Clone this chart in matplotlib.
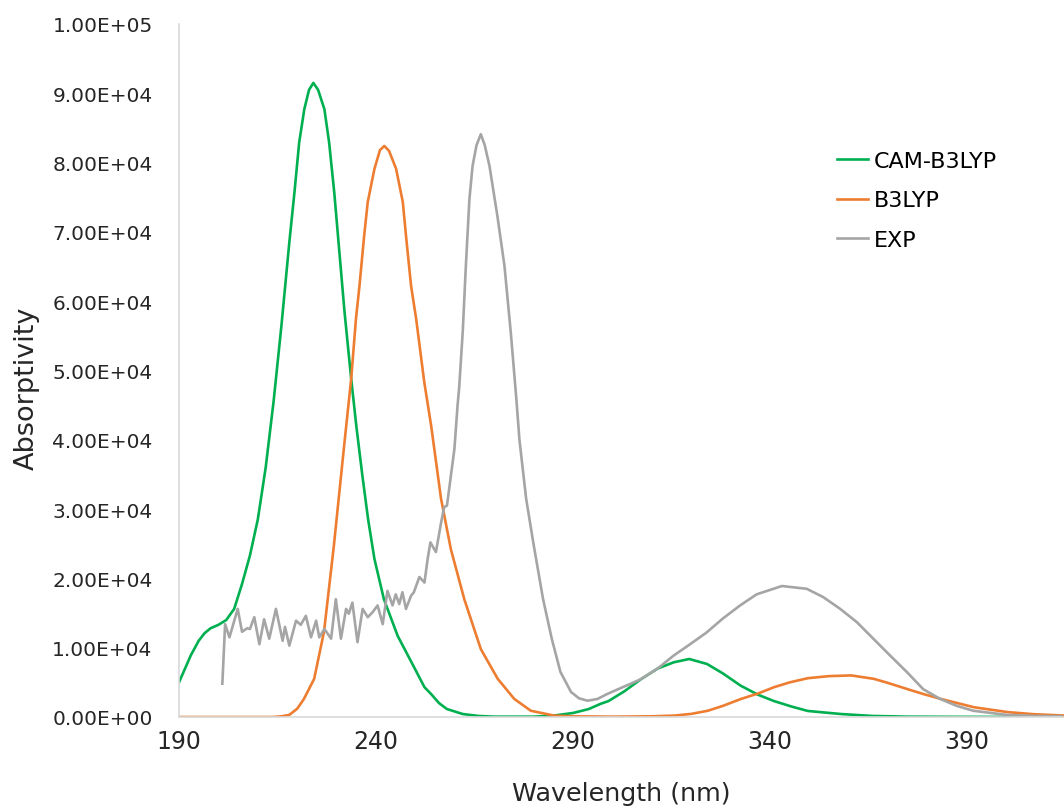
import numpy as np
import matplotlib
matplotlib.use('Agg')
import matplotlib.pyplot as plt
from matplotlib.ticker import FuncFormatter

# ── Spectra (wavelength in nm, absorptivity) ─────────────────────────────
cam_x = [190, 192, 193, 195, 196.5, 198, 200, 202, 204, 206, 208, 210, 212,
         214, 216, 218, 219.3, 220.5, 221.8, 223, 224.1, 225.3, 226.9, 228.1,
         229.4, 230.7, 232, 233.7, 235, 236.5, 238, 239.6, 242, 245.5, 249,
         252.3, 254, 256, 258, 262, 266, 270, 280, 285, 290, 294, 297, 299,
         303, 307.3, 311.5, 315.6, 319.5, 324, 328, 332.6, 337, 341, 345.5,
         349.6, 358, 366, 375, 390, 415]
cam_y = [5000, 7600, 8900, 11000, 12100, 12800, 13300, 14000, 15600, 19200,
         23300, 28500, 36000, 45500, 56500, 68500, 75700, 82900, 87700, 90500,
         91500, 90500, 87700, 82900, 75700, 67100, 58500, 48800, 42000, 35000,
         28500, 22800, 17000, 11700, 7900, 4300, 3300, 2000, 1150, 430, 150,
         50, 50, 200, 580, 1150, 1900, 2300, 3700, 5480, 7000, 7900, 8370,
         7650, 6300, 4500, 3200, 2300, 1500, 870, 430, 150, 50, 20, 0]

b3_x = [190, 214, 216, 218, 220, 221.7, 224.3, 226.8, 229.3, 231.9, 233.7,
        234.9, 235.8, 237, 237.9, 239.6, 241, 242.1, 243.3, 245.1, 246.8,
        247.6, 248.9, 250.2, 252.2, 254, 256.5, 259, 262.4, 266.6, 270.9,
        275.1, 279.3, 285.2, 290, 300, 310, 315.6, 320, 324.2, 328, 332.6,
        337, 341, 345, 349.6, 355, 360.6, 366.4, 370, 375, 379, 383.4, 391.8,
        400.4, 407, 415]
b3_y = [0, 0, 100, 300, 1200, 2600, 5500, 12300, 24700, 39100, 48800, 57400,
        62200, 69500, 74300, 79100, 81800, 82400, 81700, 79100, 74300, 69500,
        62200, 57400, 48500, 42000, 31500, 24200, 17000, 9800, 5500, 2600,
        900, 200, 100, 50, 100, 200, 450, 900, 1600, 2600, 3400, 4300, 5000,
        5600, 5900, 6000, 5500, 4900, 4000, 3300, 2600, 1400, 700, 400, 200]

exp_x = [201.0, 201.7, 202.8, 204.9, 206.0, 207.3, 208.0, 209.1, 210.4, 211.6,
         212.9, 214.6, 216.3, 216.9, 218.0, 219.7, 220.9, 222.2, 223.5, 224.8,
         225.6, 226.9, 228.6, 229.8, 231.1, 232.4, 233.1, 234.0, 235.3, 236.6,
         237.9, 239.1, 240.4, 241.7, 242.9, 244.2, 245.0, 245.9, 246.7, 247.6,
         248.9, 249.6, 251.0, 252.3, 253.1, 253.8, 255.2, 256.5, 257.3, 258.0,
         259.0, 259.9, 260.7, 261.1, 262.0, 262.8, 263.7, 264.5, 265.5, 266.6,
         267.6, 268.8, 270.8, 272.6, 274.2, 275.6, 276.4, 278.1, 279.9, 282.4,
         284.6, 286.8, 289.5, 291.5, 293.7, 296.2, 298.6, 303.0, 307.0, 311.5,
         315.5, 319.7, 323.9, 328.0, 332.4, 336.6, 343.0, 349.3, 353.5, 357.8,
         362.0, 366.2, 370.5, 374.7, 378.9, 383.2, 387.4, 391.6, 400.1, 407.0,
         414.0]
exp_y = [4800, 13400, 11500, 15600, 12300, 12800, 12700, 14400, 10500, 14100,
         11300, 15600, 11000, 13000, 10300, 13900, 13300, 14600, 11500, 13900,
         11500, 12700, 11300, 17000, 11300, 15600, 14900, 16500, 10800, 15600,
         14400, 15100, 16100, 13400, 18200, 16100, 17700, 16300, 18000, 15600,
         17500, 18000, 20200, 19400, 22800, 25200, 23800, 28000, 30300, 30500,
         34800, 38700, 45000, 47500, 55500, 65100, 74700, 79500, 82500, 84100,
         82500, 79500, 72300, 65100, 55500, 46000, 40000, 31500, 25200, 17000,
         11300, 6500, 3600, 2700, 2350, 2600, 3300, 4400, 5400, 7000, 8850,
         10500, 12200, 14200, 16100, 17700, 18900, 18500, 17300, 15600, 13700,
         11300, 8850, 6500, 4000, 2600, 1600, 900, 300, 150, 100]

series = ['CAM-B3LYP', 'B3LYP', 'EXP']
colors = ['#00b050', '#ed7d31', '#a5a5a5']
x_ticks = [190, 240, 290, 340, 390]
y_ticks = np.arange(0, 100001, 10000)

# ── Figure ───────────────────────────────────────────────────────────────
plt.rcParams['font.family'] = ['DejaVu Sans']
txt = '#262626'
fig = plt.figure(figsize=(10.64, 8.12), dpi=100)
ax = fig.add_axes([179 / 1064, 94 / 812, 1 - 179 / 1064, 693 / 812])

ax.plot(cam_x, cam_y, color=colors[0], lw=1.9, label=series[0])
ax.plot(b3_x, b3_y, color=colors[1], lw=1.9, label=series[1])
ax.plot(exp_x, exp_y, color=colors[2], lw=1.9, label=series[2])

ax.set_xlim(190, 414.6)
ax.set_ylim(0, 100000)
ax.set_xticks(x_ticks)
ax.set_yticks(y_ticks)
ax.yaxis.set_major_formatter(FuncFormatter(lambda v, p: '%.2E' % v))
ax.tick_params(axis='both', length=0, colors=txt)
ax.tick_params(axis='y', labelsize=14.5, pad=19)
ax.tick_params(axis='x', labelsize=17, pad=9)

for s in ['top', 'right']:
    ax.spines[s].set_visible(False)
for s in ['left', 'bottom']:
    ax.spines[s].set_color('#d9d9d9')
    ax.spines[s].set_linewidth(1.2)

ax.set_xlabel('Wavelength (nm)', fontsize=18.3, labelpad=20, color=txt)
ax.set_ylabel('Absorptivity', fontsize=19.5, color=txt)
ax.yaxis.set_label_coords(40 / 1064, (812 - 388) / 812,
                          transform=fig.transFigure)

ax.legend(loc='upper left', bbox_to_anchor=(837 / 1064, 1 - 152 / 812),
          bbox_transform=fig.transFigure, frameon=False, fontsize=16,
          handlelength=1.4, handletextpad=0.25, labelspacing=0.87,
          borderpad=0, borderaxespad=0)

fig.savefig('out.png', dpi=100)
plt.close(fig)
